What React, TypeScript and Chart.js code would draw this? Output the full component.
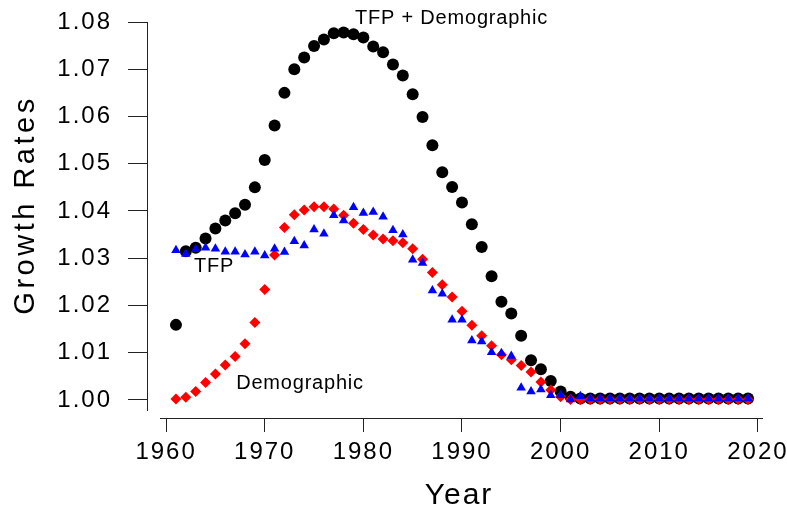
import React, { useEffect, useRef } from 'react';
import { Chart, registerables } from 'chart.js';

Chart.register(...registerables);

const years = [
  1961, 1962, 1963, 1964, 1965, 1966, 1967, 1968, 1969, 1970,
  1971, 1972, 1973, 1974, 1975, 1976, 1977, 1978, 1979, 1980,
  1981, 1982, 1983, 1984, 1985, 1986, 1987, 1988, 1989, 1990,
  1991, 1992, 1993, 1994, 1995, 1996, 1997, 1998, 1999, 2000,
  2001, 2002, 2003, 2004, 2005, 2006, 2007, 2008, 2009, 2010,
  2011, 2012, 2013, 2014, 2015, 2016, 2017, 2018, 2019,
];

const tfpDemographic = [
  1.0159, 1.0315, 1.0322, 1.0342, 1.0363, 1.0380, 1.0395, 1.0413, 1.0450, 1.0508,
  1.0581, 1.0650, 1.0700, 1.0725, 1.0749, 1.0763, 1.0776, 1.0778, 1.0774, 1.0767,
  1.0748, 1.0736, 1.0710, 1.0687, 1.0647, 1.0599, 1.0539, 1.0482, 1.0451, 1.0418,
  1.0372, 1.0324, 1.0262, 1.0208, 1.0183, 1.0136, 1.0084, 1.0065, 1.0040, 1.0018,
  1.0007, 1.0003, 1.0003, 1.0003, 1.0003, 1.0003, 1.0003, 1.0003, 1.0003, 1.0003,
  1.0003, 1.0003, 1.0003, 1.0003, 1.0003, 1.0003, 1.0003, 1.0003, 1.0003,
];

const demographic = [
  1.0002, 1.0006, 1.0018, 1.0037, 1.0055, 1.0074, 1.0092, 1.0119, 1.0164, 1.0234,
  1.0307, 1.0365, 1.0392, 1.0402, 1.0409, 1.0409, 1.0404, 1.0391, 1.0374, 1.0361,
  1.0349, 1.0341, 1.0337, 1.0333, 1.0320, 1.0298, 1.0270, 1.0244, 1.0218, 1.0188,
  1.0158, 1.0136, 1.0115, 1.0096, 1.0085, 1.0073, 1.0059, 1.0038, 1.0021, 1.0007,
  1.0001, 1.0001, 1.0001, 1.0001, 1.0001, 1.0001, 1.0001, 1.0001, 1.0001, 1.0001,
  1.0001, 1.0001, 1.0001, 1.0001, 1.0001, 1.0001, 1.0001, 1.0001, 1.0001,
];

const tfp = [
  1.0317, 1.0309, 1.0319, 1.0322, 1.0320, 1.0314, 1.0314, 1.0308, 1.0314, 1.0306,
  1.0320, 1.0313, 1.0336, 1.0327, 1.0361, 1.0352, 1.0391, 1.0380, 1.0408, 1.0396,
  1.0398, 1.0388, 1.0359, 1.0350, 1.0297, 1.0290, 1.0232, 1.0225, 1.0170, 1.0170,
  1.0126, 1.0124, 1.0101, 1.0099, 1.0093, 1.0026, 1.0018, 1.0022, 1.0010, 1.0010,
  1.0001, 1.0008, 1.0003, 1.0003, 1.0003, 1.0003, 1.0003, 1.0003, 1.0003, 1.0003,
  1.0003, 1.0003, 1.0003, 1.0003, 1.0003, 1.0003, 1.0003, 1.0003, 1.0003,
];

const xTicks = [1960, 1970, 1980, 1990, 2000, 2010, 2020];
const xTickLabels = ['1960', '1970', '1980', '1990', '2000', '2010', '2020'];
const yTicks = [1.0, 1.01, 1.02, 1.03, 1.04, 1.05, 1.06, 1.07, 1.08];
const yTickLabels = ['1.00', '1.01', '1.02', '1.03', '1.04', '1.05', '1.06', '1.07', '1.08'];

const xTitle = 'Year';
const yTitle = 'Growth Rates';

const labelTexts = ['TFP + Demographic', 'TFP', 'Demographic'];
const labelX = [1988.94, 1964.86, 1973.58];
const labelY = [1.08066, 1.02836, 1.00345];

const X_MIN = 1958.165;
const X_MAX = 2021.229;
const Y_MIN = 0.99619;
const Y_MAX = 1.08;

const FONT = '"Liberation Sans", Arial, Helvetica, sans-serif';

const rStylePlugin = {
  id: 'rStyle',
  beforeDraw(chart: any) {
    (chart.ctx as any).letterSpacing = '2px';
  },
  afterDraw(chart: any) {
    const { ctx, scales } = chart;
    const xs = scales.x;
    const ys = scales.y;
    ctx.save();
    ctx.strokeStyle = '#222';
    ctx.lineWidth = 1;
    // detached axis lines (R style)
    const axX = Math.round(ys.right) - 0.5;
    ctx.beginPath();
    ctx.moveTo(axX, ys.getPixelForValue(1.08));
    ctx.lineTo(axX, ys.getPixelForValue(0.99767));
    ctx.stroke();
    const axY = Math.round(xs.top) + 0.5;
    ctx.beginPath();
    ctx.moveTo(xs.getPixelForValue(1959.38), axY);
    ctx.lineTo(xs.getPixelForValue(2020.52), axY);
    ctx.stroke();

    // y axis title
    ctx.save();
    (ctx as any).letterSpacing = '3.5px';
    ctx.translate(26, 205);
    ctx.rotate(-Math.PI / 2);
    ctx.font = `29px ${FONT}`;
    ctx.fillStyle = '#000';
    ctx.textAlign = 'center';
    ctx.textBaseline = 'middle';
    ctx.fillText(yTitle, 0, 0);
    ctx.restore();

    // in-plot labels
    (ctx as any).letterSpacing = '0.8px';
    ctx.font = `20px ${FONT}`;
    ctx.fillStyle = '#000';
    ctx.textAlign = 'center';
    ctx.textBaseline = 'middle';
    labelTexts.forEach((t, i) => {
      ctx.fillText(t, xs.getPixelForValue(labelX[i]), ys.getPixelForValue(labelY[i]));
    });
    ctx.restore();
  },
};

export default function App() {
  const ref = useRef<HTMLCanvasElement>(null);

  useEffect(() => {
    const canvas = ref.current;
    if (!canvas) return;
    const mk = (arr: number[]) => years.map((yr, i) => ({ x: yr, y: arr[i] }));
    const chart = new Chart(canvas, {
      type: 'scatter',
      data: {
        datasets: [
          {
            label: 'TFP + Demographic',
            data: mk(tfpDemographic),
            pointStyle: 'circle',
            pointRadius: 6,
            pointBackgroundColor: '#000000',
            pointBorderWidth: 0,
            order: 3,
            clip: false,
          } as any,
          {
            label: 'Demographic',
            data: mk(demographic),
            pointStyle: 'rectRot',
            pointRadius: 5.5,
            pointBackgroundColor: '#ff0000',
            pointBorderWidth: 0,
            order: 2,
            clip: false,
          } as any,
          {
            label: 'TFP',
            data: mk(tfp),
            pointStyle: 'triangle',
            pointRadius: 5.5,
            pointBackgroundColor: '#0000ff',
            pointBorderWidth: 0,
            order: 1,
            clip: false,
          } as any,
        ],
      },
      options: {
        responsive: false,
        animation: false,
        events: [],
        layout: { padding: { top: 22, right: 17, bottom: 0, left: 0 } },
        plugins: {
          legend: { display: false },
          tooltip: { enabled: false },
        },
        scales: {
          x: {
            type: 'linear',
            min: X_MIN,
            max: X_MAX,
            afterBuildTicks: (s: any) => {
              s.ticks = xTicks.map((v) => ({ value: v }));
            },
            afterFit: (s: any) => {
              s.height = 94;
              s.paddingLeft = 0;
              s.paddingRight = 0;
            },
            grid: {
              display: true,
              drawOnChartArea: false,
              drawTicks: true,
              tickLength: 14,
              color: '#222',
              lineWidth: 1,
            },
            border: { display: false },
            ticks: {
              autoSkip: false,
              maxRotation: 0,
              minRotation: 0,
              padding: 6,
              color: '#000',
              font: { family: FONT, size: 24 },
              callback: (v: any) => xTickLabels[xTicks.indexOf(Number(v))] ?? '',
            },
            title: {
              display: true,
              text: xTitle,
              color: '#000',
              font: { family: FONT, size: 30, lineHeight: 1 },
              padding: { top: 0, bottom: 1 },
            },
          },
          y: {
            type: 'linear',
            min: Y_MIN,
            max: Y_MAX,
            afterBuildTicks: (s: any) => {
              s.ticks = yTicks.map((v) => ({ value: v }));
            },
            afterFit: (s: any) => {
              s.width = 148;
              s.paddingTop = 0;
              s.paddingBottom = 0;
            },
            grid: {
              display: true,
              drawOnChartArea: false,
              drawTicks: true,
              tickLength: 20,
              color: '#222',
              lineWidth: 1,
            },
            border: { display: false },
            ticks: {
              autoSkip: false,
              padding: 16,
              color: '#000',
              font: { family: FONT, size: 24 },
              callback: (v: any) => {
                const idx = yTicks.findIndex((t) => Math.abs(t - Number(v)) < 1e-9);
                return idx >= 0 ? yTickLabels[idx] : '';
              },
            },
            title: { display: false },
          },
        },
      } as any,
      plugins: [rStylePlugin],
    });
    return () => chart.destroy();
  }, []);

  return (
    <div style={{ position: 'absolute', left: 0, top: 0, width: 787, height: 512, background: '#fff' }}>
      <canvas ref={ref} width={787} height={512} style={{ display: 'block', width: 787, height: 512 }} />
    </div>
  );
}
